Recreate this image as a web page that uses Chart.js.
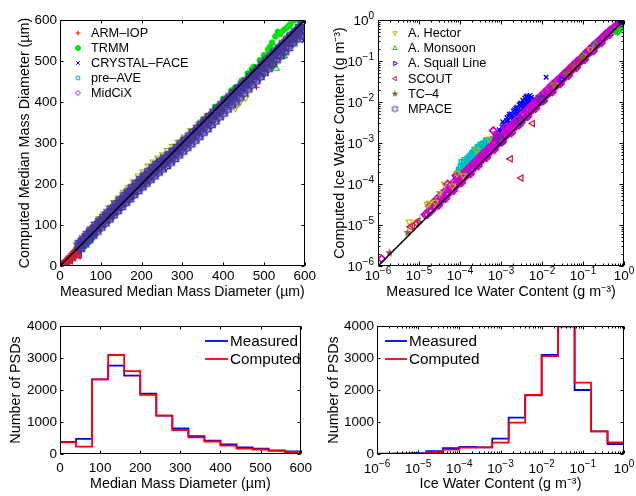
<!DOCTYPE html>
<html>
<head>
<meta charset="utf-8">
<script src="https://cdn.jsdelivr.net/npm/chart.js@4.4.1/dist/chart.umd.min.js"></script>
<style>
  body { margin: 0; background: #fff; }
  #wrap { position: relative; width: 636px; height: 496px; }
  canvas { position: absolute; }
</style>
</head>
<body>
<div id="wrap">
  <canvas id="cMmd" width="318" height="305" style="left:0;top:0;width:318px;height:305px"></canvas>
  <canvas id="cIwc" width="318" height="305" style="left:318px;top:0;width:318px;height:305px"></canvas>
  <canvas id="hMmd" width="318" height="191" style="left:0;top:305px;width:318px;height:191px"></canvas>
  <canvas id="hIwc" width="318" height="191" style="left:318px;top:305px;width:318px;height:191px"></canvas>
</div>
<script>
// ---- data -----------------------------------------------------------------
const campaigns = ["ARM–IOP", "TRMM", "CRYSTAL–FACE", "pre–AVE", "MidCiX",
  "A. Hector", "A. Monsoon", "A. Squall Line", "SCOUT", "TC–4", "MPACE"];

// median mass diameter [measured, computed] in um
const mmdArmIop = [[230,222],[255,246],[275,262],[290,282],[305,293],[322,310],[338,326],[352,340],[368,352],[385,370],[398,382],[412,398],[428,412],[445,432],[462,448],[482,436],[472,458],[495,478],[150,145],[180,174],[200,192],[120,116]];
const mmdTrmm = [[400,408],[420,428],[430,436],[445,452],[460,470],[475,486],[490,502],[500,514],[510,528],[520,545],[528,560],[534,571],[540,566],[548,575],[555,580],[565,590],[575,600],[585,600],[560,585],[515,535],[470,480],[380,388],[350,357],[300,307],[250,257],[200,207],[150,157]];
const mmdCrystalFace = [[420,410],[435,422],[450,437],[465,452],[480,468],[495,483],[510,497],[525,512],[540,527],[555,542],[570,556],[580,565],[590,573],[597,578],[600,560],[598,550],[592,585],[585,578],[560,555],[530,525],[500,492],[470,462],[440,434],[380,372],[340,333],[300,293],[260,254],[220,214]];
const mmdPreAve = [[42,36],[46,38],[50,42],[54,45],[58,50],[62,54],[66,58],[70,62],[74,67],[78,72],[82,76],[52,48],[60,56],[68,64]];
const mmdMidCix = [[90,92],[130,128],[170,166],[210,206],[260,254],[310,303],[360,352],[410,400]];
const mmdHector = [[62,75],[72,88],[84,102],[96,116],[108,128],[120,142],[132,155],[144,166],[156,180],[168,192],[180,205],[192,220],[204,230],[216,244],[228,254],[240,264],[252,272],[264,282],[276,292],[290,302],[305,315],[320,330],[340,346],[360,366],[430,385],[440,398],[455,410],[575,548],[567,545],[547,527],[585,560],[520,485],[500,470]];
const mmdMonsoon = [[519,487],[525,495],[530,482],[550,512],[580,575],[560,548]];
const mmdSquall = [[300,295],[420,415],[560,560]];
const mmdScout = [[4,3],[8,5],[12,8],[16,10],[20,14],[24,18],[28,22],[32,26],[36,30],[40,34],[44,38],[10,3],[18,8],[26,13],[34,20],[42,27],[46,30],[14,13],[22,21],[30,29],[38,37],[44,44],[6,6],
  [2,1],[7,3],[11,6],[15,7],[19,12],[23,15],[27,19],[31,23],[35,27],[39,31],[43,35],[47,33],[45,25],[48,28],[9,9],[17,16],[25,24],[33,32],[41,40],[36,36]];
const mmdTc4 = [[470,455],[485,470],[500,482],[515,500],[530,512],[545,527],[560,545],[575,560],[590,575],[540,535],[500,495],[460,450],[440,432],[420,410],[400,392]];
const mmdMpace = [
  [45,50],[55,61],[65,72],[75,83],[85,93],[95,103],[105,113],[115,124],[125,133],[135,143],[145,154],[155,163],[165,173],[175,183],[185,193],[195,203],[205,212],[215,222],[225,232],[235,241],[245,250],[255,256],[265,264],[275,272],[285,281],[295,290],[305,299],[315,309],[325,319],[335,329],[345,339],[355,349],[365,359],[375,369],[385,379],[395,389],[405,399],[415,409],[425,418],[435,428],[445,437],[455,447],[465,456],[475,466],[485,476],[495,486],[505,496],[515,506],[525,516],[535,526],[545,536],[555,546],[565,556],[575,566],[585,576],[595,586],
  [50,42],[60,53],[70,63],[80,74],[90,84],[100,94],[110,104],[120,114],[130,124],[140,134],[150,144],[160,154],[170,163],[180,173],[190,183],[200,192],[210,201],[220,210],[230,219],[240,228],[250,236],[260,244],[270,252],[280,261],[290,270],[300,279],[310,288],[320,297],[330,306],[340,315],[350,325],[360,334],[370,344],[380,353],[390,363],[400,372],[410,382],[420,392],[430,401],[440,411],[450,421],[460,431],[470,441],[480,451],[490,461],[500,471],[510,481],[520,492],[530,502],[540,512],[550,522],[560,532],[570,543],[580,553],[590,563],[600,573],
  [52,50],[62,60],[72,70],[82,81],[92,92],[102,102],[112,112],[122,122],[132,133],[142,143],[152,153],[162,163],[172,173],[182,183],[192,192],[202,202],[212,211],[222,221],[232,230],[242,239],[252,248],[262,256],[272,264],[282,273],[292,282],[302,292],[312,301],[322,311],[332,320],[342,330],[352,340],[362,349],[372,359],[382,369],[392,378],[402,388],[412,398],[422,407],[432,417],[442,427],[452,436],[462,446],[472,456],[482,466],[492,475],[502,485],[512,495],[522,505],[532,515],[542,525],[552,535],[562,545],[572,555],[582,565],[592,575],
  [48,56],[58,67],[68,78],[78,89],[88,100],[98,110],[108,120],[118,131],[128,141],[138,151],[148,161],[158,172],[168,182],[178,192],[188,202],[198,212],[208,221],[218,231],[228,240],[238,249],[248,257],[258,265],[268,272],[278,281],[288,290],[298,299],[308,308],[318,318],[328,327],[338,337],[348,347],[358,357],[368,366],[378,376],[388,386],[398,395],[408,405],[418,414],[428,424],[438,434],[448,443],[458,453],[468,463],[478,473],[488,483],[498,493],[508,503],[518,513],[528,523],[538,533],[548,543],[558,553],[568,563],[578,573],[588,583],[598,592]];

// ice water content [measured, computed] in g m-3
const iwcArmIop = [[5e-3,6e-3],[8e-3,9.5e-3],[1.5e-2,1.8e-2],[2.5e-2,3.0e-2],[4.0e-2,4.8e-2],[6.0e-2,7.2e-2],[9.0e-2,0.105],[0.14,0.16]];
const iwcTrmm = [[0.3,0.33],[0.45,0.5],[0.55,0.6],[0.65,0.68],[0.72,0.75],[0.7,0.5],[0.8,0.6],[0.85,0.7]];
const iwcCrystalFace = [[6.3e-4,1.3e-3],[7.5e-4,1.7e-3],[9.0e-4,2.1e-3],[1.05e-3,2.5e-3],[1.25e-3,3.0e-3],[1.5e-3,3.6e-3],[1.8e-3,4.4e-3],[2.1e-3,5.3e-3],[2.5e-3,6.4e-3],[3.0e-3,7.8e-3],[3.5e-3,9.5e-3],[4.0e-3,1.1e-2],[4.6e-3,1.3e-2],[5.1e-3,1.45e-2],[5.2e-3,1.1e-2],[4.2e-3,8.5e-3],[3.2e-3,6.0e-3],[2.4e-3,4.5e-3],[1.7e-3,3.2e-3],[1.2e-3,2.2e-3],[8.5e-4,1.5e-3],[2.8e-3,8.5e-3],[3.8e-3,1.25e-2],[2.0e-3,6.0e-3],[1.4e-3,4.2e-3],[6.0e-3,1.0e-2],[7.0e-3,1.1e-2],[1.26e-2,4.0e-2],[0.75,0.85],[0.85,0.95],[0.9,0.85],[0.8,0.9],
  [7e-4,1.5e-3],[8e-4,1.4e-3],[9.5e-4,1.8e-3],[1.1e-3,2.0e-3],[1.3e-3,2.6e-3],[1.6e-3,3.0e-3],[1.9e-3,3.6e-3],[2.2e-3,4.0e-3],[2.6e-3,5.2e-3],[3.3e-3,7.0e-3],[3.7e-3,8.0e-3],[4.4e-3,1.0e-2],[4.8e-3,1.2e-2],[2.3e-3,7.0e-3],[3.1e-3,9.5e-3],[4.1e-3,1.35e-2],[1.6e-3,5.0e-3],[1.1e-3,3.3e-3],[6.5e-3,1.2e-2],[8e-3,1.3e-2],
  [6.8e-4,1.2e-3],[7.8e-4,1.3e-3],[8.8e-4,1.6e-3],[1.0e-3,1.9e-3],[1.15e-3,2.8e-3],[1.35e-3,3.5e-3],[1.55e-3,4.5e-3],[1.75e-3,5.2e-3],[1.95e-3,4.8e-3],[2.15e-3,6.5e-3],[2.45e-3,7.5e-3],[2.7e-3,5.8e-3],[2.9e-3,9.0e-3],[3.4e-3,1.1e-2],[3.6e-3,7.0e-3],[3.9e-3,9.0e-3],[4.3e-3,1.4e-2],[4.7e-3,9.5e-3],[5.5e-3,1.3e-2],[5.8e-3,9.0e-3],[2.0e-3,3.8e-3],[2.7e-3,4.8e-3],[1.45e-3,2.6e-3],[1.05e-3,1.75e-3]];
const iwcPreAve = [[1.0e-4,2.2e-4],[1.2e-4,2.8e-4],[1.5e-4,3.2e-4],[1.8e-4,4.0e-4],[2.0e-4,4.8e-4],[2.5e-4,5.5e-4],[3.0e-4,6.5e-4],[3.5e-4,8.0e-4],[4.0e-4,9.0e-4],[4.5e-4,1.05e-3],[5.0e-4,1.1e-3],[1.1e-4,1.8e-4],[1.4e-4,2.3e-4],[1.8e-4,2.9e-4],[2.3e-4,3.6e-4],[3.0e-4,4.6e-4],[3.8e-4,6.0e-4],[4.8e-4,7.5e-4],[1.3e-4,3.8e-4],[2.2e-4,6.0e-4],[2.8e-4,8.0e-4],[3.5e-5,4.4e-5],
  [1.05e-4,2.6e-4],[1.25e-4,3.2e-4],[1.6e-4,4.2e-4],[1.9e-4,5.0e-4],[2.4e-4,6.2e-4],[2.9e-4,7.2e-4],[3.4e-4,8.6e-4],[4.2e-4,1.0e-3],[1.15e-4,2.0e-4],[1.6e-4,2.6e-4],[2.1e-4,3.4e-4],[2.6e-4,4.2e-4],[3.3e-4,5.2e-4],[4.3e-4,6.8e-4],[9.0e-5,1.8e-4],[8.0e-5,1.5e-4],
  [1.1e-4,3.4e-4],[1.5e-4,4.0e-4],[1.7e-4,4.6e-4],[2.0e-4,5.6e-4],[2.3e-4,6.8e-4],[2.7e-4,7.6e-4],[3.2e-4,9.0e-4],[3.7e-4,9.5e-4],[4.4e-4,1.15e-3],[1.25e-4,2.4e-4],[1.45e-4,2.8e-4],[1.7e-4,3.4e-4],[2.0e-4,3.9e-4],[2.4e-4,4.6e-4],[2.8e-4,5.4e-4],[3.2e-4,6.0e-4],[3.6e-4,7.0e-4],[4.1e-4,7.8e-4],[4.6e-4,9.0e-4],[5.2e-4,1.0e-3],[9.5e-5,2.2e-4],[8.5e-5,1.7e-4]];
const iwcMidCix = [
  [1.6e-5,1.8e-5],[2.0e-5,2.2e-5],[2.5e-5,2.8e-5],[3.2e-5,3.5e-5],[4.0e-5,4.4e-5],[5.0e-5,5.5e-5],[6.3e-5,7.0e-5],[8.0e-5,8.8e-5],[1.0e-4,1.1e-4],[1.26e-4,1.4e-4],[1.6e-4,1.75e-4],[2.0e-4,2.2e-4],[2.5e-4,2.75e-4],[3.2e-4,3.5e-4],[4.0e-4,4.4e-4],[5.0e-4,5.5e-4],[6.3e-4,7.0e-4],[8.0e-4,8.8e-4],[1.0e-3,1.1e-3],[1.26e-3,1.4e-3],[1.6e-3,1.75e-3],[2.0e-3,2.2e-3],[2.5e-3,2.75e-3],[3.2e-3,3.5e-3],[4.0e-3,4.4e-3],[5.0e-3,5.5e-3],[6.3e-3,7.0e-3],[8.0e-3,8.8e-3],[1.0e-2,1.1e-2],[1.26e-2,1.4e-2],[1.6e-2,1.75e-2],[2.0e-2,2.2e-2],[2.5e-2,2.75e-2],[3.2e-2,3.5e-2],[4.0e-2,4.4e-2],[5.0e-2,5.5e-2],[6.3e-2,7.0e-2],[8.0e-2,8.8e-2],[0.1,0.11],[0.126,0.14],[0.16,0.175],[0.2,0.22],[0.25,0.275],[0.32,0.35],[0.4,0.44],[0.5,0.55],[0.63,0.68],[0.8,0.86],[0.9,0.95],
  [1.8e-5,2.9e-5],[2.2e-5,3.5e-5],[2.8e-5,4.4e-5],[3.5e-5,5.6e-5],[4.5e-5,7.0e-5],[5.6e-5,8.8e-5],[7.0e-5,1.1e-4],[9.0e-5,1.4e-4],[1.1e-4,1.7e-4],[1.4e-4,2.1e-4],[1.8e-4,2.7e-4],[2.2e-4,3.3e-4],[2.8e-4,4.2e-4],[3.5e-4,5.3e-4],[4.5e-4,6.7e-4],[5.6e-4,8.4e-4],[7.0e-4,1.05e-3],[9.0e-4,1.35e-3],[1.1e-3,1.65e-3],[1.4e-3,2.1e-3],[1.8e-3,2.7e-3],[2.2e-3,3.3e-3],[2.8e-3,4.2e-3],[3.5e-3,5.3e-3],[4.5e-3,6.7e-3],[5.6e-3,8.4e-3],[7.0e-3,1.05e-2],[9.0e-3,1.35e-2],[1.1e-2,1.65e-2],[1.4e-2,2.1e-2],[1.8e-2,2.7e-2],[2.2e-2,3.2e-2],[2.8e-2,4.0e-2],[3.5e-2,5.0e-2],[4.5e-2,6.3e-2],[5.6e-2,7.8e-2],[7.0e-2,9.6e-2],[9.0e-2,0.12],[0.11,0.15],[0.14,0.19],[0.18,0.24],[0.22,0.29],[0.28,0.36],[0.35,0.45],[0.45,0.56],
  [3.0e-5,3.0e-5],[4.5e-5,4.4e-5],[7.0e-5,6.9e-5],[1.1e-4,1.08e-4],[1.8e-4,1.76e-4],[2.8e-4,2.75e-4],[4.5e-4,4.4e-4],[7.0e-4,6.9e-4],[1.1e-3,1.08e-3],[1.8e-3,1.76e-3],[2.8e-3,2.75e-3],[4.5e-3,4.4e-3],[7.0e-3,6.9e-3],[1.1e-2,1.08e-2],[1.8e-2,1.76e-2],[2.8e-2,2.75e-2],[4.5e-2,4.4e-2],[7.0e-2,6.9e-2],[0.11,0.108],[0.18,0.176],[0.28,0.275],[0.45,0.44],
  [1.4e-5,1.8e-5],[1.8e-5,2.3e-5],[2.25e-5,2.9e-5],[2.8e-5,3.6e-5],[3.6e-5,4.7e-5],[4.5e-5,5.8e-5],[5.6e-5,7.3e-5],[7.1e-5,9.2e-5],[9.0e-5,1.17e-4],[1.13e-4,1.47e-4],[1.42e-4,1.85e-4],[1.8e-4,2.3e-4],[2.25e-4,2.9e-4],[2.8e-4,3.65e-4],[3.6e-4,4.7e-4],[4.5e-4,5.8e-4],[5.6e-4,7.3e-4],[7.1e-4,9.2e-4],[9.0e-4,1.17e-3],[1.13e-3,1.47e-3],[1.42e-3,1.85e-3],[1.8e-3,2.3e-3],[2.25e-3,2.9e-3],[2.8e-3,3.65e-3],[3.6e-3,4.7e-3],[4.5e-3,5.8e-3],[5.6e-3,7.3e-3],[7.1e-3,9.2e-3],[9.0e-3,1.17e-2],[1.13e-2,1.47e-2],[1.42e-2,1.85e-2],[1.8e-2,2.3e-2],[2.25e-2,2.9e-2],[2.8e-2,3.6e-2],[3.6e-2,4.6e-2],[4.5e-2,5.7e-2],[5.6e-2,7.1e-2],[7.1e-2,9.0e-2],[9.0e-2,0.114],[0.113,0.143],[0.142,0.18],[0.18,0.226],[0.225,0.28],[0.28,0.35],[0.36,0.44],[0.45,0.54],[0.56,0.66],[0.71,0.8],
  [5.0e-5,1.0e-4],[8.0e-5,1.6e-4],[8.0e-4,1.5e-3],[1.3e-3,2.4e-3],
  [1.23e-6,1.5e-6],[6.5e-4,2.0e-3]];
const iwcHector = [[5.8e-6,1.2e-5],[1.6e-5,3.2e-5],[1.8e-5,3.4e-5],[3.2e-5,5.9e-5],[4.2e-5,1.0e-4],[8.5e-5,1.8e-4],[2.5e-4,6.8e-4],[5.2e-4,1.26e-3],[2.5e-5,3.6e-5],[6.5e-5,9.0e-5],[1.2e-4,1.6e-4],[2.0e-2,2.6e-2],[0.15,0.19]];
const iwcMonsoon = [[0.6,0.5],[0.72,0.58],[0.8,0.7],[0.2,0.25],[0.1,0.13]];
const iwcSquall = [[1.0e-5,1.15e-5],[0.9,0.95],[0.85,0.88],[3.0e-2,3.6e-2]];
const iwcScout = [[5.9e-3,3.0e-3],[1.7e-3,4.1e-4],[3.1e-3,1.4e-4],[7.0e-6,9.6e-6],[8.5e-6,1.1e-5],[9.5e-6,1.25e-5],[6.2e-6,9.0e-6],[0.05,0.06],[0.08,0.095]];
const iwcTc4 = [[1.9e-6,2.1e-6],[5.3e-6,6.5e-6],[2.0e-2,2.6e-2],[4.0e-2,5.0e-2],[6.0e-2,7.5e-2],[0.1,0.125]];
const iwcMpace = [[1.0e-3,1.15e-3],[3.0e-3,3.5e-3],[1.0e-2,1.15e-2]];

// histograms: bin edges and counts
const mmdEdges = [0,40,80,120,160,200,240,280,320,360,400,440,480,520,560,600];
const mmdMeasuredCounts = [380,470,2330,2760,2450,1885,1200,800,560,420,300,210,170,115,85];
const mmdComputedCounts = [365,230,2330,3094,2590,1845,1200,750,520,390,260,170,140,95,55];
const iwcEdges = [1e-6,2.51e-6,6.31e-6,1.58e-5,3.98e-5,1e-4,2.51e-4,6.31e-4,1.58e-3,3.98e-3,1e-2,2.51e-2,6.31e-2,0.158,0.398,1];
const iwcMeasuredCounts = [8,12,30,90,180,220,210,480,1135,1835,3094,3990,2000,710,312];
const iwcComputedCounts = [5,8,12,60,135,200,210,355,980,1850,3060,3990,2230,710,365];

// axis ticks
const mmdTicks = [0,100,200,300,400,500,600];
const countTicks = [0,1000,2000,3000,4000];
const logTicks = [1e-6,1e-5,1e-4,1e-3,1e-2,1e-1,1];

// ---- styles ---------------------------------------------------------------
Chart.defaults.font.family = '"Liberation Sans", Arial, sans-serif';
Chart.defaults.color = "#000";

function starCanvas(color, n, outer, inner, filled, lw) {
  const c = document.createElement("canvas");
  const s = Math.ceil(outer * 2 + 2);
  c.width = c.height = s;
  const g = c.getContext("2d");
  g.beginPath();
  for (let i = 0; i < 2 * n; i++) {
    const r = i % 2 ? inner : outer;
    const a = -Math.PI / 2 + (i * Math.PI) / n;
    g.lineTo(s / 2 + r * Math.cos(a), s / 2 + r * Math.sin(a));
  }
  g.closePath();
  if (filled) { g.fillStyle = color; g.fill(); }
  else { g.strokeStyle = color; g.lineWidth = lw; g.stroke(); }
  return c;
}

const markStyles = [
  { color: "#ff0000", style: "cross", r: 3, w: 1 },
  { color: "#00e600", style: "circle", r: 2.8, fill: true, w: 1 },
  { color: "#0000ff", style: "crossRot", r: 3.2, w: 1.4 },
  { color: "#00bfbf", style: "rect", r: 3.6, w: 1.5 },
  { color: "#cc00cc", style: "rectRot", r: 3.6, w: 1.8 },
  { color: "#b5b500", style: "triangle", r: 3.6, rot: 180, w: 1.1 },
  { color: "#1fbf1f", style: "triangle", r: 3.6, w: 1.1 },
  { color: "#0000ff", style: "triangle", r: 3.2, rot: 90, w: 1 },
  { color: "#c8203c", style: "triangle", r: 3.6, rot: -90, w: 1.3 },
  { color: "#8b5a3c", style: starCanvas("#8b5a3c", 5, 4.5, 1.9, true), legend: starCanvas("#8b5a3c", 5, 3.6, 1.5, true) },
  { color: "#44389a", style: starCanvas("#44389a", 6, 4.8, 2.8, false, 1.5), legend: starCanvas("#44389a", 6, 3.4, 2, false, 1) },
];

const minorLog = [];
logTicks.slice(0, -1).forEach((d) => {
  for (let m = 2; m <= 9; m++) minorLog.push(d * m);
});

function scatterSets(series, lineEnd) {
  const sets = series.map((pts, i) => {
    const s = markStyles[i];
    return {
      label: campaigns[i],
      data: pts,
      pointStyle: s.style,
      pointRadius: s.r || 3,
      pointRotation: s.rot || 0,
      pointBorderColor: s.color,
      pointBackgroundColor: s.fill ? s.color : "rgba(0,0,0,0)",
      pointBorderWidth: s.w || 1,
      legendStyle: s.legend || s.style,
      order: -i, // later campaigns on top, like the original
    };
  });
  // 1:1 line
  sets.push({
    label: "1:1",
    data: lineEnd,
    showLine: true,
    borderColor: "#000",
    borderWidth: 1.5,
    pointRadius: 0,
    order: -50,
  });
  return sets;
}

function histSets(edges, measured, computed) {
  const steps = (vals) => edges.map((e, i) => ({ x: e, y: vals[Math.min(i, vals.length - 1)] }));
  return [
    { label: "Measured", data: steps(measured), borderColor: "#0000ff", borderWidth: 1.8, stepped: "before", pointRadius: 0, order: 1 },
    { label: "Computed", data: steps(computed), borderColor: "#ff0000", borderWidth: 1.8, stepped: "before", pointRadius: 0, order: 0 },
  ];
}

// frame box with inward ticks on all four sides
const frameTicks = {
  id: "frameTicks",
  afterDatasetsDraw(chart, args, opts) {
    const { ctx, chartArea: a } = chart;
    const xs = chart.scales.x, ys = chart.scales.y;
    const L = Math.round(a.left) + 0.5, R = Math.round(a.right) - 0.5;
    const T = Math.round(a.top) + 0.5, B = Math.round(a.bottom) - 0.5;
    ctx.save();
    ctx.strokeStyle = "#000";
    ctx.lineWidth = 1;
    ctx.beginPath();
    const tickX = (vals, len) => vals.forEach((v) => {
      const p = Math.round(xs.getPixelForValue(v)) + 0.5;
      ctx.moveTo(p, B); ctx.lineTo(p, B - len);
      ctx.moveTo(p, T); ctx.lineTo(p, T + len);
    });
    const tickY = (vals, len) => vals.forEach((v) => {
      const p = Math.round(ys.getPixelForValue(v)) + 0.5;
      ctx.moveTo(L, p); ctx.lineTo(L + len, p);
      ctx.moveTo(R, p); ctx.lineTo(R - len, p);
    });
    tickX(xs.ticks.map((t) => t.value), opts.major);
    tickY(ys.ticks.map((t) => t.value), opts.major);
    if (opts.minorX) tickX(opts.minorX, opts.minor);
    if (opts.minorY) tickY(opts.minorY, opts.minor);
    ctx.stroke();
    ctx.strokeRect(L, T, R - L, B - T);
    ctx.restore();
  },
};

// 10^n tick labels with raised exponent
const expLabels = {
  id: "expLabels",
  afterDraw(chart, args, opts) {
    if (!opts.x && !opts.y) return;
    const { ctx, chartArea: a } = chart;
    const f1 = "13.5px " + Chart.defaults.font.family;
    const f2 = "10px " + Chart.defaults.font.family;
    ctx.save();
    ctx.fillStyle = "#000";
    ctx.textBaseline = "alphabetic";
    ctx.textAlign = "left";
    const parts = (v) => {
      const e = Math.round(Math.log10(v));
      const ex = (e < 0 ? "\u2212" : "") + Math.abs(e);
      ctx.font = f1; const w1 = ctx.measureText("10").width;
      ctx.font = f2; const w2 = ctx.measureText(ex).width;
      return { ex, w1, w2 };
    };
    const draw = (x, y, p) => {
      ctx.font = f1; ctx.fillText("10", x, y);
      ctx.font = f2; ctx.fillText(p.ex, x + p.w1, y - opts.raise);
    };
    if (opts.x) {
      chart.scales.x.ticks.forEach((t) => {
        const px = chart.scales.x.getPixelForValue(t.value);
        const p = parts(t.value);
        draw(px - (p.w1 + p.w2) / 2, a.bottom + opts.x, p);
      });
    }
    if (opts.y) {
      chart.scales.y.ticks.forEach((t) => {
        const py = chart.scales.y.getPixelForValue(t.value);
        const p = parts(t.value);
        draw(a.left - opts.y - p.w1 - p.w2, py + 5, p);
      });
    }
    ctx.restore();
  },
};

// legend drawn inside the axes
const innerLegend = {
  id: "innerLegend",
  afterDraw(chart, args, opts) {
    if (!opts.items) return;
    const { ctx, chartArea: a } = chart;
    ctx.save();
    ctx.font = opts.font + "px " + Chart.defaults.font.family;
    ctx.textBaseline = "middle";
    ctx.textAlign = "left";
    opts.items.forEach((idx, i) => {
      const ds = chart.data.datasets[idx];
      const x = a.left + opts.left;
      const y = a.top + opts.top + i * opts.rowH;
      if (opts.line) {
        ctx.strokeStyle = ds.borderColor;
        ctx.lineWidth = ds.borderWidth;
        ctx.beginPath(); ctx.moveTo(x, y); ctx.lineTo(x + opts.line, y); ctx.stroke();
      } else {
        ctx.strokeStyle = ds.pointBorderColor;
        ctx.fillStyle = ds.pointBackgroundColor;
        ctx.lineWidth = 1;
        Chart.helpers.drawPoint(ctx, { pointStyle: ds.legendStyle, rotation: ds.pointRotation, radius: opts.r, borderWidth: 1 }, x, y);
      }
      ctx.fillStyle = "#000";
      ctx.fillText(ds.label, x + opts.textDx, y + 0.5);
    });
    ctx.restore();
  },
};

Chart.register(frameTicks, expLabels, innerLegend);

function linAxis(min, max, ticks, title, isX, size, tickPad, titlePad) {
  return {
    type: "linear",
    min: min,
    max: max,
    afterBuildTicks: (s) => { s.ticks = ticks.map((v) => ({ value: v })); },
    ticks: { autoSkip: false, padding: tickPad, font: { size: 13.5 }, callback: (v) => String(v) },
    grid: { display: false, drawTicks: false },
    border: { display: false },
    title: { display: true, text: title, font: { size: 14.3 }, padding: titlePad },
    afterFit: (s) => { if (isX) s.height = size; else s.width = size; },
  };
}

function logAxis(title, isX, size, titlePad) {
  return {
    type: "logarithmic",
    min: 1e-6,
    max: 1,
    afterBuildTicks: (s) => { s.ticks = logTicks.map((v) => ({ value: v })); },
    ticks: { display: false },
    grid: { display: false, drawTicks: false },
    border: { display: false },
    title: { display: true, text: title, font: { size: 14.3 }, padding: titlePad },
    afterFit: (s) => { if (isX) s.height = size; else s.width = size; },
  };
}

const common = {
  responsive: false,
  animation: false,
  events: [],
};

// ---- top left: median mass diameter scatter --------------------------------
new Chart(document.getElementById("cMmd"), {
  type: "scatter",
  data: {
    datasets: scatterSets(
      [mmdArmIop, mmdTrmm, mmdCrystalFace, mmdPreAve, mmdMidCix, mmdHector, mmdMonsoon, mmdSquall, mmdScout, mmdTc4, mmdMpace],
      [[0, 0], [600, 600]]
    ),
  },
  options: {
    ...common,
    layout: { padding: { left: 0, right: 11, top: 20, bottom: 0 } },
    scales: {
      x: linAxis(0, 600, mmdTicks, "Measured Median Mass Diameter (µm)", true, 39, 2, { top: 0, bottom: 4 }),
      y: linAxis(0, 600, mmdTicks, "Computed Median Mass Diameter (µm)", false, 60, 3, { top: 16, bottom: 0 }),
    },
    plugins: {
      legend: { display: false },
      tooltip: { enabled: false },
      frameTicks: { major: 3 },
      innerLegend: { items: [0, 1, 2, 3, 4], left: 18, top: 13, rowH: 15, textDx: 13, font: 12.7, r: 2.5 },
    },
  },
});

// ---- top right: ice water content scatter ----------------------------------
new Chart(document.getElementById("cIwc"), {
  type: "scatter",
  data: {
    datasets: scatterSets(
      [iwcArmIop, iwcTrmm, iwcCrystalFace, iwcPreAve, iwcMidCix, iwcHector, iwcMonsoon, iwcSquall, iwcScout, iwcTc4, iwcMpace],
      [[1e-6, 1e-6], [1, 1]]
    ),
  },
  options: {
    ...common,
    layout: { padding: { left: 0, right: 12, top: 20, bottom: 0 } },
    scales: {
      x: logAxis("Measured Ice Water Content (g m⁻³)", true, 39, { top: 0, bottom: 4 }),
      y: logAxis("Computed Ice Water Content (g m⁻³)", false, 60, { top: 13, bottom: 0 }),
    },
    plugins: {
      legend: { display: false },
      tooltip: { enabled: false },
      frameTicks: { major: 4, minor: 2, minorX: minorLog, minorY: minorLog },
      expLabels: { x: 14, y: 4, raise: 6 },
      innerLegend: { items: [5, 6, 7, 8, 9, 10], left: 17, top: 13, rowH: 15.2, textDx: 13, font: 12.7, r: 2.5 },
    },
  },
});

// ---- bottom left: MMD histogram --------------------------------------------
new Chart(document.getElementById("hMmd"), {
  type: "line",
  data: { datasets: histSets(mmdEdges, mmdMeasuredCounts, mmdComputedCounts) },
  options: {
    ...common,
    layout: { padding: { left: 0, right: 11, top: 21, bottom: 0 } },
    scales: {
      x: linAxis(0, 600, mmdTicks, "Median Mass Diameter (µm)", true, 42, 6, { top: 0, bottom: 3 }),
      y: linAxis(0, 4000, countTicks, "Number of PSDs", false, 60, 3, { top: 7, bottom: 0 }),
    },
    plugins: {
      legend: { display: false },
      tooltip: { enabled: false },
      frameTicks: { major: 3 },
      innerLegend: { items: [0, 1], line: 23, left: 145, top: 15, rowH: 18, textDx: 25, font: 15.3 },
    },
  },
});

// ---- bottom right: IWC histogram -------------------------------------------
new Chart(document.getElementById("hIwc"), {
  type: "line",
  data: { datasets: histSets(iwcEdges, iwcMeasuredCounts, iwcComputedCounts) },
  options: {
    ...common,
    layout: { padding: { left: 0, right: 12, top: 21, bottom: 0 } },
    scales: {
      x: logAxis("Ice Water Content (g m⁻³)", true, 42, { top: 0, bottom: 3 }),
      y: linAxis(0, 4000, countTicks, "Number of PSDs", false, 59, 3, { top: 7, bottom: 0 }),
    },
    plugins: {
      legend: { display: false },
      tooltip: { enabled: false },
      frameTicks: { major: 3, minor: 2, minorX: minorLog },
      expLabels: { x: 19, raise: 6 },
      innerLegend: { items: [0, 1], line: 22, left: 8, top: 15, rowH: 18, textDx: 24, font: 15.3 },
    },
  },
});
</script>
</body>
</html>
